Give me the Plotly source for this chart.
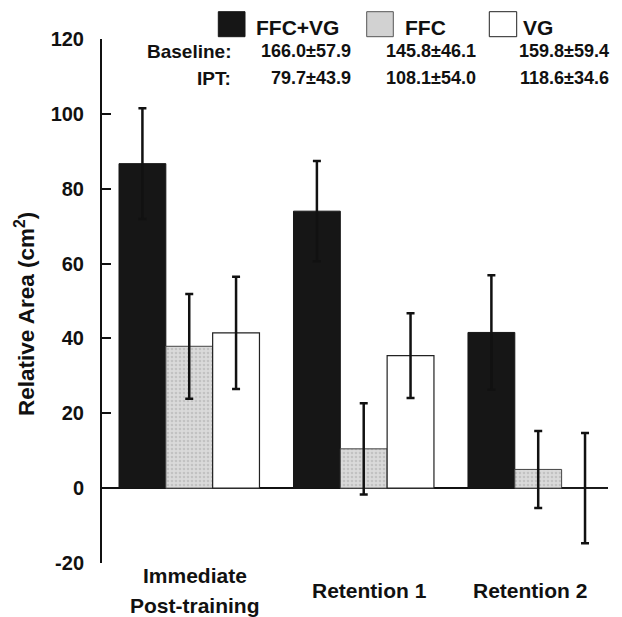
import plotly.graph_objects as go

# ---- data ----
categories = ["Immediate<br>Post-training", "Retention 1", "Retention 2"]
ffc_vg = [86.7, 74.0, 41.6]
ffc_vg_err = [14.8, 13.4, 15.3]
ffc = [37.9, 10.5, 5.0]
ffc_err = [14.0, 12.2, 10.3]
vg = [41.5, 35.4, 0.0]
vg_err = [15.0, 11.3, 14.7]

group_names = ["FFC+VG", "FFC", "VG"]
baseline_vals = ["166.0±57.9", "145.8±46.1", "159.8±59.4"]
ipt_vals = ["79.7±43.9", "108.1±54.0", "118.6±34.6"]

y_tickvals = [-20, 0, 20, 40, 60, 80, 100, 120]
y_ticktext = ["-20", "0", "20", "40", "60", "80", "100", "120"]
y_title = "Relative Area (cm<sup>2</sup>)"

FONT = "Liberation Sans, Arial, sans-serif"
INK = "#111111"
err_style = dict(type="data", visible=True, color=INK, thickness=2.5, width=4)

fig = go.Figure()
fig.add_trace(go.Bar(
    x=categories, y=ffc_vg, name=group_names[0],
    marker=dict(color="#161616", line=dict(color="#161616", width=1)),
    error_y=dict(array=ffc_vg_err, **err_style),
))
fig.add_trace(go.Bar(
    x=categories, y=ffc, name=group_names[1],
    marker=dict(color="#d6d6d6", line=dict(color="#444444", width=1),
                pattern=dict(shape=".", fgcolor="#a9a9a9", bgcolor="#dadada",
                             size=4, solidity=0.35)),
    error_y=dict(array=ffc_err, **err_style),
))
fig.add_trace(go.Bar(
    x=categories, y=vg, name=group_names[2],
    marker=dict(color="#ffffff", line=dict(color="#222222", width=1.2)),
    error_y=dict(array=vg_err, **err_style),
))

# ---- page geometry (the page body has an 8px margin) ----
OFF = 8
W, H = 614, 609
L, R, T, B = 94, 14, 31, 54
PW, PH = W - L - R, H - T - B


def px_x(px):
    return (px - OFF - L) / PW


def px_y(py):
    return (H - B - (py - OFF)) / PH


shapes = []
annotations = []

# ---- custom legend (shapes + labels above plot) ----
legend_fills = ["#161616", "#d2d2d2", "#ffffff"]
legend_lines = ["#161616", "#555555", "#222222"]
sq_x = [(218.3, 245.0), (366.7, 393.3), (489.3, 516.7)]
lbl_x = [255, 404, 521.7]
for i in range(3):
    shapes.append(dict(type="rect", xref="paper", yref="paper",
                       x0=px_x(sq_x[i][0]), x1=px_x(sq_x[i][1]),
                       y0=px_y(36.7), y1=px_y(11.7),
                       fillcolor=legend_fills[i],
                       line=dict(color=legend_lines[i], width=1)))
    annotations.append(dict(xref="paper", yref="paper", x=px_x(lbl_x[i]), y=px_y(27),
                            text="<b>" + group_names[i] + "</b>", showarrow=False,
                            xanchor="left", yanchor="middle", borderpad=0,
                            font=dict(family=FONT, size=21, color=INK)))

val_right = [351.7, 476.7, 610]
rows = [("Baseline:", baseline_vals, 51.0), ("IPT:", ipt_vals, 78.5)]
for label, vals, py in rows:
    annotations.append(dict(xref="paper", yref="paper", x=px_x(231.5), y=px_y(py),
                            text="<b>" + label + "</b>", showarrow=False,
                            xanchor="right", yanchor="middle", borderpad=0,
                            font=dict(family=FONT, size=19, color=INK)))
    for j, v in enumerate(vals):
        annotations.append(dict(xref="paper", yref="paper", x=px_x(val_right[j]), y=px_y(py),
                                text="<b>" + v + "</b>", showarrow=False,
                                xanchor="right", yanchor="middle", borderpad=0,
                                font=dict(family=FONT, size=18, color=INK)))

# ---- category labels, centred vertically as in the original ----
label_shift = [6, 6, -8]
for k, cat in enumerate(categories):
    lines = cat.split("<br>")
    n = len(lines)
    for m, line in enumerate(lines):
        annotations.append(dict(xref="x", yref="paper", x=cat, y=px_y(590 + (m - (n - 1) / 2) * 30),
                                xshift=label_shift[k], text="<b>" + line + "</b>", showarrow=False,
                                xanchor="center", yanchor="middle", borderpad=0,
                                font=dict(family=FONT, size=21, color=INK)))

# ---- y-axis title ----
annotations.append(dict(xref="paper", yref="paper", x=px_x(25), y=px_y(314),
                        text="<b>" + y_title + "</b>", textangle=-90, showarrow=False,
                        xanchor="center", yanchor="middle", borderpad=0,
                        font=dict(family=FONT, size=22.5, color=INK)))

fig.update_layout(
    width=W, height=H,
    margin=dict(l=L, r=R, t=T, b=B),
    paper_bgcolor="white", plot_bgcolor="white",
    barmode="group", bargap=0.195, bargroupgap=0,
    showlegend=False,
    font=dict(family=FONT, color=INK),
    shapes=shapes, annotations=annotations,
    xaxis=dict(range=[-0.5, 2.4], showline=False, showgrid=False, zeroline=False,
               automargin=False, ticks="", showticklabels=False),
    yaxis=dict(range=[-20, 120], tickvals=y_tickvals, ticktext=y_ticktext,
               automargin=False,
               showline=True, linecolor=INK, linewidth=2,
               ticks="inside", ticklen=9, tickwidth=2, tickcolor=INK,
               ticklabelstandoff=12,
               showgrid=False, zeroline=True, zerolinecolor=INK, zerolinewidth=1.5,
               tickfont=dict(family=FONT, size=20, color=INK, weight="bold")),
)

fig.write_html("out.html")
